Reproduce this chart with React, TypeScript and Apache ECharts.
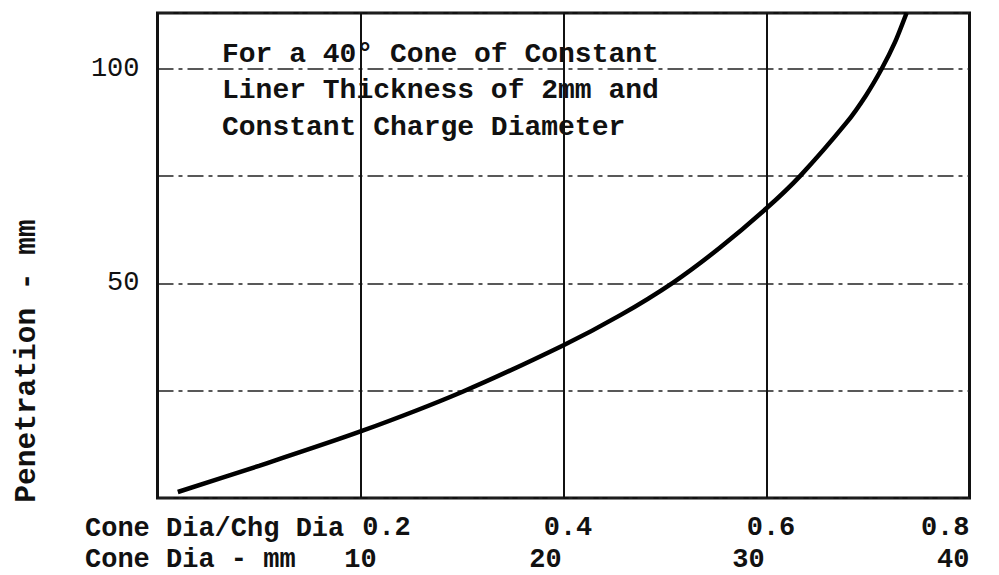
import React, { useEffect, useRef } from "react";
import * as echarts from "echarts";

// Data
const ratioX = [0.02, 0.1, 0.2, 0.3, 0.4, 0.456, 0.508, 0.554, 0.6, 0.633, 0.679, 0.698, 0.7135, 0.7266, 0.738];
const penetration = [1.4, 7.5, 15.5, 24.7, 35.6, 42.6, 50.2, 58.3, 67.5, 75, 87.5, 93.8, 100, 106.2, 113];
const ratioTickLabels = ["0.2", "0.4", "0.6", "0.8"];
const mmTickLabels = ["10", "20", "30", "40"];
const yTickLabels = ["50", "100"];
const annotationLines = [
  "For a 40\u00B0 Cone of Constant",
  "Liner Thickness of 2mm and",
  "Constant Charge Diameter",
];
const yAxisTitle = "Penetration - mm";
const xRow1Title = "Cone Dia/Chg Dia";
const xRow2Title = "Cone Dia - mm";

const FONT = "'Liberation Mono', 'DejaVu Sans Mono', monospace";

export default function App() {
  const ref = useRef<HTMLDivElement>(null);
  useEffect(() => {
    if (!ref.current) return;
    const chart = echarts.init(ref.current, null, { renderer: "svg" });
    const data = ratioX.map((x, i) => [x, penetration[i]]);
    const idx = (v: number) => Math.round(v / 0.2) - 1;
    const labelBase = {
      fontFamily: FONT,
      fontWeight: "bold" as const,
      fontSize: 27,
      color: "#111",
    };
    chart.setOption({
      animation: false,
      backgroundColor: "#fff",
      grid: {
        left: 157.5,
        right: 29.5,
        top: 13,
        bottom: 77,
        show: true,
        borderWidth: 3,
        borderColor: "#111",
        containLabel: false,
      },
      xAxis: [
        {
          type: "value",
          min: 0,
          max: 0.8,
          interval: 0.2,
          position: "bottom",
          axisLine: { show: false },
          axisTick: { show: false },
          splitLine: { show: true, lineStyle: { color: "#111", width: 2 } },
          axisLabel: {
            ...labelBase,
            margin: 16,
            alignMaxLabel: "right",
            formatter: (v: number) => {
              const i = idx(v);
              if (i < 0 || i >= ratioTickLabels.length) return "";
              if (i === 0) return `{l|${ratioTickLabels[i]}}`;
              if (i === ratioTickLabels.length - 1) return ratioTickLabels[i];
              return `{r|${ratioTickLabels[i]}}`;
            },
            rich: {
              l: { ...labelBase, padding: [0, 0, 0, 52] },
              r: { ...labelBase, padding: [0, 0, 0, 9] },
            },
          },
        },
        {
          type: "value",
          min: 0,
          max: 0.8,
          interval: 0.2,
          position: "bottom",
          offset: 32,
          axisLine: { show: false },
          axisTick: { show: false },
          splitLine: { show: false },
          axisLabel: {
            ...labelBase,
            margin: 16,
            alignMaxLabel: "right",
            formatter: (v: number) => {
              const i = idx(v);
              if (i < 0 || i >= mmTickLabels.length) return "";
              if (i === 0 || i === mmTickLabels.length - 1) return mmTickLabels[i];
              return `{s|${mmTickLabels[i]}}`;
            },
            rich: {
              s: { ...labelBase, padding: [0, 36, 0, 0] },
            },
          },
        },
      ],
      yAxis: {
        type: "value",
        min: 0,
        max: 113,
        interval: 25,
        axisLine: { show: false },
        axisTick: { show: false },
        splitLine: {
          show: true,
          lineStyle: { color: "#222", width: 1.6, type: [16, 5, 4, 5] },
        },
        axisLabel: {
          ...labelBase,
          fontWeight: "normal",
          fontSize: 27,
          margin: 18,
          formatter: (v: number) => {
            const s = String(v);
            return yTickLabels.includes(s) ? s : "";
          },
        },
      },
      graphic: [
        ...annotationLines.map((t, i) => ({
          type: "text",
          left: 222,
          top: 40 + i * 36.5,
          style: {
            text: t,
            font: `bold 28px ${FONT}`,
            fill: "#111",
          },
        })),
        {
          type: "text",
          x: 27,
          y: 361,
          rotation: Math.PI / 2,
          style: {
            text: yAxisTitle,
            font: `bold 29.5px ${FONT}`,
            fill: "#111",
            align: "center",
            verticalAlign: "middle",
          },
        },
        {
          type: "text",
          x: 85,
          y: 529,
          style: {
            text: xRow1Title,
            font: `bold 27px ${FONT}`,
            fill: "#111",
            align: "left",
            verticalAlign: "middle",
          },
        },
        {
          type: "text",
          x: 85,
          y: 560,
          style: {
            text: xRow2Title,
            font: `bold 27px ${FONT}`,
            fill: "#111",
            align: "left",
            verticalAlign: "middle",
          },
        },
      ],
      series: [
        {
          type: "line",
          xAxisIndex: 0,
          data,
          smooth: 0.25,
          showSymbol: false,
          clip: true,
          lineStyle: { color: "#000", width: 4.5 },
        },
      ],
    });
    return () => chart.dispose();
  }, []);
  return (
    <div
      ref={ref}
      style={{ position: "fixed", left: 0, top: 0, width: 999, height: 575 }}
    />
  );
}
